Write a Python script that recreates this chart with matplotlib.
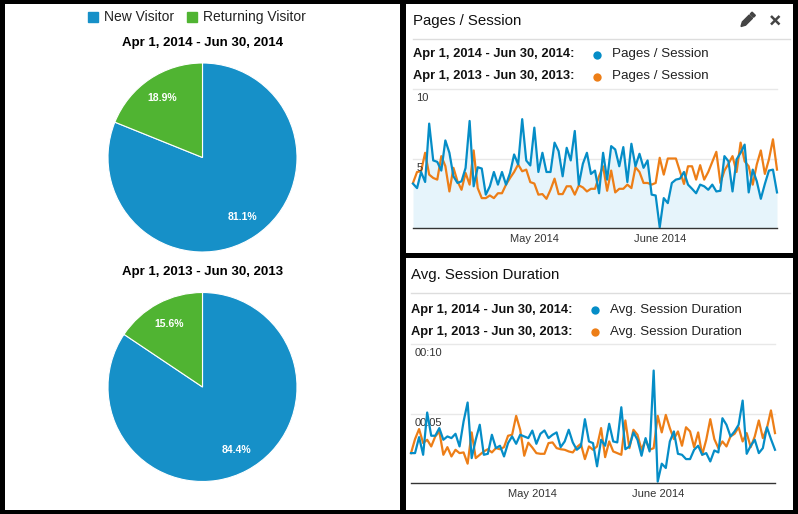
import numpy as np
import matplotlib
matplotlib.use("Agg")
import matplotlib.pyplot as plt
from matplotlib.patches import Rectangle, Polygon

plt.rcParams['font.family'] = ['Liberation Sans', 'DejaVu Sans']

# ---- data ----
visitor_types = ["New Visitor", "Returning Visitor"]
share_2014 = [81.1, 18.9]
share_2013 = [84.4, 15.6]
period_2014 = "Apr 1, 2014 - Jun 30, 2014"
period_2013 = "Apr 1, 2013 - Jun 30, 2013"

days = np.arange(91)  # Apr 1 .. Jun 30
month_ticks = [30, 61]
month_labels = ["May 2014", "June 2014"]

pages_2014 = [3.19, 2.87, 4.03, 3.31, 7.51, 4.86, 4.76, 4.13, 6.30, 5.41,
              3.72, 3.24, 3.36, 4.32, 7.70, 3.00, 4.37, 4.28, 2.40, 3.00,
              4.03, 3.12, 4.03, 3.12, 3.96, 5.29, 4.57, 7.83, 4.86, 4.50,
              7.22, 4.03, 5.41, 4.03, 4.03, 6.14, 5.53, 3.72, 5.77, 4.86,
              6.98, 3.12, 4.62, 5.41, 3.89, 4.13, 2.50, 5.41, 3.48, 5.89,
              5.65, 4.44, 5.82, 3.31, 6.06, 4.44, 5.34, 4.33, 4.86, 2.40,
              2.34, 0.05, 2.15, 1.79, 3.24, 3.48, 3.55, 4.03, 3.12, 2.82,
              2.50, 3.12, 3.00, 2.75, 3.12, 2.63, 2.68, 5.17, 4.80, 2.63,
              4.93, 5.41, 6.00, 2.56, 4.20, 3.36, 2.10, 3.17, 4.13, 4.20,
              2.56]
pages_2013 = [3.24, 4.03, 4.08, 5.41, 3.84, 3.60, 3.48, 5.17, 4.45, 2.63,
              4.33, 3.36, 2.75, 3.96, 3.12, 5.58, 2.87, 2.15, 2.15, 2.34,
              2.15, 2.50, 2.50, 3.12, 3.60, 4.03, 4.57, 4.08, 4.20, 3.30,
              3.20, 2.40, 2.44, 2.10, 2.75, 3.55, 2.44, 2.44, 3.00, 3.00,
              2.40, 3.07, 2.92, 2.63, 2.82, 2.82, 3.72, 4.44, 2.68, 4.13,
              2.56, 2.82, 2.82, 3.12, 2.87, 4.37, 4.03, 3.24, 3.24, 3.12,
              3.24, 5.05, 3.84, 5.00, 5.00, 5.00, 4.08, 3.17, 4.44, 4.44,
              3.48, 4.52, 3.48, 4.03, 4.76, 5.48, 3.24, 4.13, 4.62, 5.17,
              4.03, 6.14, 4.80, 4.44, 3.12, 4.57, 5.58, 3.89, 4.93, 6.38,
              4.20]
# avg. session duration, seconds
dur_2014 = [2.15, 2.15, 3.30, 2.03, 5.07, 3.40, 3.40, 3.95, 3.11, 3.35,
            3.23, 3.54, 2.63, 4.43, 5.79, 1.79, 3.11, 4.19, 2.03, 2.10,
            3.47, 2.51, 2.68, 1.91, 2.87, 3.35, 2.82, 3.47, 3.35, 3.23,
            3.77, 2.82, 3.54, 3.78, 3.23, 3.47, 3.64, 2.58, 2.99, 3.83,
            2.92, 2.39, 2.63, 4.59, 2.99, 2.87, 1.20, 3.11, 2.68, 4.26,
            2.99, 2.92, 5.45, 2.43, 2.63, 3.64, 3.11, 1.96, 3.23, 2.27,
            8.09, 0.10, 1.39, 1.08, 2.99, 3.71, 2.10, 2.03, 1.72, 1.72,
            2.39, 2.68, 2.03, 2.15, 1.55, 2.34, 2.20, 4.66, 4.19, 3.35,
            3.71, 4.19, 5.93, 2.10, 2.68, 3.11, 2.15, 2.51, 4.01, 3.16,
            2.39]
dur_2013 = [2.15, 3.16, 3.88, 2.87, 3.11, 2.63, 3.35, 3.71, 2.03, 2.58,
            1.91, 2.39, 2.15, 2.20, 1.39, 3.64, 1.79, 2.03, 2.27, 2.43,
            2.20, 2.51, 2.43, 2.58, 3.40, 3.47, 4.83, 3.83, 1.96, 2.90,
            2.55, 2.15, 2.10, 2.10, 2.87, 2.92, 2.51, 2.43, 2.39, 2.27,
            2.20, 2.58, 2.82, 1.72, 2.63, 2.39, 2.63, 3.95, 1.86, 2.99,
            2.27, 2.15, 2.03, 4.50, 2.51, 3.83, 3.47, 2.39, 3.11, 2.39,
            2.51, 4.83, 3.64, 4.90, 3.95, 3.16, 3.71, 2.68, 4.01, 3.71,
            2.58, 3.64, 2.03, 3.11, 4.59, 3.16, 2.51, 2.99, 2.63, 3.35,
            3.54, 4.01, 2.99, 3.59, 2.58, 3.35, 4.50, 3.23, 3.95, 5.22,
            3.59]

BLUE = "#058dc7"
PIE_BLUE = "#1690c8"
GREEN = "#50b432"
ORANGE = "#ed7e17"
W, H = 798, 514


def rect(x0, y0, x1, y1):
    # pixel box (top-left origin) -> figure fraction
    return [x0 / W, 1 - y1 / H, (x1 - x0) / W, (y1 - y0) / H]


fig = plt.figure(figsize=(W / 100, H / 100), dpi=100, facecolor="black")

# white panels on black
bg = fig.add_axes([0, 0, 1, 1])
bg.set_xlim(0, W)
bg.set_ylim(H, 0)
bg.axis("off")
for x0, y0, x1, y1 in [(5, 4, 400, 510), (406, 4, 793, 253), (406, 258, 793, 510)]:
    bg.add_patch(Rectangle((x0, y0), x1 - x0, y1 - y0, facecolor="white", edgecolor="none"))

# pies
r = 94.5
for cy, vals in [(157.5, share_2014), (387, share_2013)]:
    ax = fig.add_axes(rect(202.5 - r * 1.05, cy - r * 1.05, 202.5 + r * 1.05, cy + r * 1.05))
    ax.pie(vals, colors=[PIE_BLUE, GREEN], startangle=90, counterclock=False,
           autopct="%.1f%%", pctdistance=0.76,
           wedgeprops=dict(edgecolor="white", linewidth=0.8),
           textprops=dict(color="white", fontsize=7.5, fontweight="bold"))
    ax.set_xlim(-1.05, 1.05)
    ax.set_ylim(-1.05, 1.05)
    ax.set_aspect("equal")


def line_panel(box, old, new, ylabels, fill):
    ax = fig.add_axes(rect(*box))
    ax.set_xlim(0, 90)
    ax.set_ylim(0, 10)
    if fill:
        ax.fill_between(days, new, color="#e6f4fb", lw=0, zorder=1)
    ax.plot(days, old, color=ORANGE, lw=1.6, zorder=3, clip_on=False)
    ax.plot(days, new, color=BLUE, lw=1.6, zorder=4, clip_on=False)
    for v, lab in zip([5, 10], ylabels):
        ax.axhline(v, color="#e8e8e8", lw=1, zorder=0, clip_on=False)
        ax.annotate(lab, (0, v), xytext=(2.5, -6.8), textcoords="offset points",
                    ha="left", va="center", fontsize=8, color="#333")
    for s in ["top", "left", "right"]:
        ax.spines[s].set_visible(False)
    ax.spines["bottom"].set_color("#333")
    ax.spines["bottom"].set_linewidth(1)
    ax.spines["bottom"].set_zorder(5)
    ax.set_yticks([])
    ax.set_xticks(month_ticks)
    ax.set_xticklabels(month_labels)
    ax.tick_params(axis="x", length=0, pad=4.5, labelsize=8, labelcolor="#333")
    ax.patch.set_alpha(0)
    return ax


line_panel((413, 89, 777, 228), pages_2013, pages_2014, ["5", "10"], True)
line_panel((411, 344, 775, 483), dur_2013, dur_2014, ["00:05", "00:10"], False)

# overlay for text, legends and icons
ov = fig.add_axes([0, 0, 1, 1], zorder=10)
ov.set_xlim(0, W)
ov.set_ylim(H, 0)
ov.axis("off")

# pie legend and titles
ov.add_patch(Rectangle((88, 11.5), 10, 10, color=PIE_BLUE))
ov.text(104, 17, visitor_types[0], fontsize=10, va="center", color="#222")
ov.add_patch(Rectangle((187, 11.5), 10, 10, color=GREEN))
ov.text(203, 17, visitor_types[1], fontsize=10, va="center", color="#222")
ov.text(202.5, 43, period_2014, fontsize=9.5, fontweight="bold", ha="center", va="center")
ov.text(202.5, 272, period_2013, fontsize=9.5, fontweight="bold", ha="center", va="center")

# right panel headers
for x, ty, sep, rows, dotx, name in [
        (413, 21, 38.5, (54.5, 76.5), 596.5, "Pages / Session"),
        (411, 275.5, 293, (310, 331.5), 595, "Avg. Session Duration")]:
    ov.text(x, ty, name, fontsize=10.8, va="center", color="#111")
    ov.plot([x, 790], [sep, sep], color="#dddddd", lw=1)
    for yy, per, col in zip(rows, [period_2014, period_2013], [BLUE, ORANGE]):
        ov.text(x, yy, per + ":", fontsize=9.3, fontweight="bold", va="center", color="#111")
        ov.plot(dotx, yy, "o", ms=6, color=col, mew=0)
        ov.text(dotx + 15.5, yy, name, fontsize=9.6, va="center", color="#222")

# pencil icon
tip = np.array([741.0, 26.5])
u = np.array([1, -1]) / np.sqrt(2)
n = np.array([1, 1]) / np.sqrt(2) * 2.3
body = [tip, tip + 4.2 * u + n, tip + 14 * u + n, tip + 14 * u - n, tip + 4.2 * u - n]
cap = [tip + 15.4 * u + n, tip + 18 * u + n, tip + 18 * u - n, tip + 15.4 * u - n]
ov.add_patch(Polygon(body, closed=True, color="#444"))
ov.add_patch(Polygon(cap, closed=True, color="#444"))
# close icon
ov.plot([771, 779.5], [16, 24.5], color="#444", lw=1.8, solid_capstyle="butt")
ov.plot([771, 779.5], [24.5, 16], color="#444", lw=1.8, solid_capstyle="butt")

fig.savefig("out.png", dpi=100, facecolor=fig.get_facecolor())
